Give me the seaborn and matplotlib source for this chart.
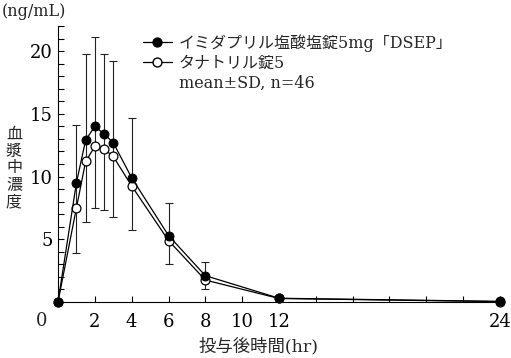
import matplotlib
matplotlib.use("Agg")
import matplotlib.pyplot as plt
import seaborn as sns
import numpy as np
import pandas as pd
from matplotlib.lines import Line2D

# Data
time_hr = [0, 1, 1.5, 2, 2.5, 3, 4, 6, 8, 12, 24]
dsep_mean = [0, 9.5, 12.9, 14.0, 13.4, 12.7, 9.9, 5.3, 2.1, 0.3, 0.05]
dsep_sd = [0, 4.6, 6.9, 7.1, 6.4, 6.5, 4.8, 2.6, 1.1, 0, 0]
tanatril_mean = [0, 7.5, 11.2, 12.4, 12.2, 11.6, 9.25, 4.9, 1.75, 0.28, 0.03]
tanatril_sd = [0, 3.6, 4.8, 4.9, 4.9, 4.85, 3.5, 1.9, 0.75, 0, 0]

label_dsep = "イミダプリル塩酸塩錠5mg「DSEP」"
label_tanatril = "タナトリル錠5"
note = "mean±SD, n=46"

x_major = [0, 2, 4, 6, 8, 10, 12, 14, 16, 18, 20, 22, 24]
x_labels = ["", "2", "4", "6", "8", "10", "12", "", "", "", "", "", "24"]
y_major = [0, 5, 10, 15, 20]
y_labels = ["", "5", "10", "15", "20"]

FONT = ["DejaVu Serif", "Noto Sans CJK JP", "DejaVu Sans"]


def main():
    sns.set_theme(style="ticks")
    plt.rcParams["font.family"] = FONT

    df = pd.DataFrame({
        "time": time_hr,
        "dsep": dsep_mean,
        "tanatril": tanatril_mean,
    })

    fig = plt.figure(figsize=(5.11, 3.58), dpi=100)
    ax = fig.add_axes([58 / 511, 1 - 302 / 358, 442 / 511, 276 / 358])

    # error bars: upper SD for DSEP, lower SD for Tanatril, joined through both means
    lo = np.array(tanatril_mean) - np.array(tanatril_sd)
    hi = np.array(dsep_mean) + np.array(dsep_sd)
    mean = np.array(dsep_mean)
    ax.errorbar(time_hr, mean, yerr=[mean - lo, hi - mean], fmt="none",
                ecolor="#222222", elinewidth=0.8, capsize=2.6, capthick=0.8,
                zorder=2)

    sns.lineplot(data=df, x="time", y="tanatril", ax=ax, color="black",
                 linewidth=0.9, marker="o", markersize=6.4,
                 markerfacecolor="white", markeredgecolor="black",
                 markeredgewidth=0.9, clip_on=False, zorder=3)
    sns.lineplot(data=df, x="time", y="dsep", ax=ax, color="black",
                 linewidth=0.9, marker="o", markersize=6.4,
                 markerfacecolor="black", markeredgecolor="black",
                 clip_on=False, zorder=4)

    ax.set_xlim(0, 24)
    ax.set_ylim(0, 22)
    ax.set_xticks(x_major)
    ax.set_xticklabels(x_labels)
    ax.set_yticks(y_major)
    ax.set_yticklabels(y_labels)
    ax.set_yticks(np.arange(0, 23, 1), minor=True)
    ax.tick_params(axis="both", which="both", direction="in", length=4,
                   width=0.8, color="black", labelsize=13, labelcolor="black")
    ax.tick_params(axis="x", which="major", pad=8)
    ax.tick_params(axis="y", which="major", pad=4)
    for lab in ax.get_xticklabels() + ax.get_yticklabels():
        lab.set_family(FONT)

    sns.despine(ax=ax)
    for side in ["left", "bottom"]:
        ax.spines[side].set_linewidth(0.8)
        ax.spines[side].set_color("black")
    ax.set_xlabel("")
    ax.set_ylabel("")

    # shared origin label
    fig.text(42 / 511, 1 - 321 / 358, "0", fontsize=13, ha="center",
             va="center", family=FONT)
    fig.text(2 / 511, 1 - 12 / 358, "(ng/mL)", fontsize=11.5, ha="left",
             va="center", family=FONT)
    fig.text(14 / 511, 1 - 168 / 358, "\n".join("血漿中濃度"), fontsize=11.5,
             ha="center", va="center", linespacing=0.98,
             family=["Noto Sans CJK JP"])
    fig.text(258 / 511, 1 - 347 / 358, "投与後時間(hr)", fontsize=12.5,
             ha="center", va="center", family=FONT)

    handles = [
        Line2D([], [], color="black", linewidth=0.9, marker="o",
               markersize=6.4, markerfacecolor="black"),
        Line2D([], [], color="black", linewidth=0.9, marker="o",
               markersize=6.4, markerfacecolor="white"),
        Line2D([], [], linestyle="none"),
    ]
    leg = ax.legend(handles, [label_dsep, label_tanatril, note],
                    loc="upper left", bbox_to_anchor=(143 / 511, 1 - 34 / 358),
                    bbox_transform=fig.transFigure, frameon=False,
                    fontsize=11.5, handlelength=1.8, handletextpad=0.45,
                    labelspacing=0.2, borderpad=0, borderaxespad=0)
    for t in leg.get_texts():
        t.set_family(FONT)

    fig.savefig("out.png", dpi=100)
    plt.close(fig)


if __name__ == "__main__":
    main()
